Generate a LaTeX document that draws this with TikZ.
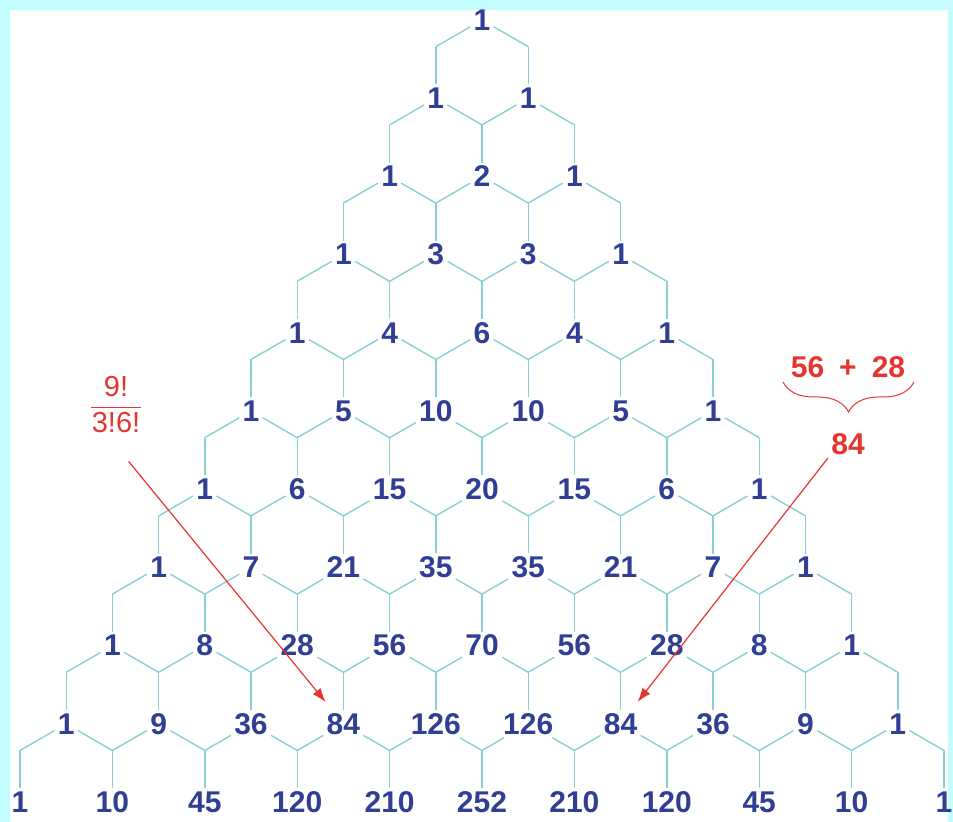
\documentclass[tikz,border=0pt]{standalone}
\usepackage{fontspec}
\setmainfont{Liberation Sans}
\usetikzlibrary{arrows.meta,decorations.pathreplacing}
\definecolor{mycyan}{HTML}{C2FCFF}
\definecolor{myhex}{HTML}{88D0D4}
\definecolor{mynavy}{HTML}{303E94}
\definecolor{myred}{HTML}{E53530}

\begin{document}
\begin{tikzpicture}[x=0.5pt,y=-0.5pt,
  num/.style={font=\fontsize{15}{16}\selectfont\bfseries,text=mynavy,inner sep=1.5pt},
  hex/.style={draw=myhex,line width=0.7pt},
  ann/.style={font=\fontsize{15}{16}\selectfont\bfseries,text=myred,inner sep=1.5pt},
  arr/.style={-{Latex[length=7pt,width=5pt]},draw=myred,line width=0.6pt}]
% frame
\fill[mycyan] (0,0) rectangle (953,822);
\fill[white] (10,10) rectangle (948,822);
\useasboundingbox (0,0) rectangle (953,822);
% numbers
\foreach \vals [count=\rr from 0] in {{1},{1,1},{1,2,1},{1,3,3,1},{1,4,6,4,1},
    {1,5,10,10,5,1},{1,6,15,20,15,6,1},{1,7,21,35,35,21,7,1},
    {1,8,28,56,70,56,28,8,1},{1,9,36,84,126,126,84,36,9,1},
    {1,10,45,120,210,252,210,120,45,10,1}}{
  \foreach \v [count=\kk from 0] in \vals{
    \node[num] (n-\rr-\kk) at ({482+(2*\kk-\rr)*46.2},{20+78.2*\rr}) {\v};
  }
}
% honeycomb
\foreach \rr [evaluate=\rr as \rn using int(\rr+1)] in {0,...,9}{
  \foreach \jj in {0,...,\rn}{
    \coordinate (j-\rr-\jj) at ({482+(2*\jj-\rr-1)*46.2},{46.7+78.2*\rr});
    \draw[hex] (j-\rr-\jj) -- (n-\rn-\jj);
  }
  \foreach \kk [evaluate=\kk as \kn using int(\kk+1)] in {0,...,\rr}{
    \draw[hex] (j-\rr-\kk) -- (n-\rr-\kk) -- (j-\rr-\kn);
  }
}
% left note
\node[ann,font=\fontsize{14.5}{16}\selectfont] (frac) at (116,407)
  {\setlength{\tabcolsep}{0.5pt}\renewcommand{\arraystretch}{1.1}%
   \begin{tabular}{c}9!\\\hline 3!6!\end{tabular}};
\draw[arr,shorten <=10pt,shorten >=5pt] (frac.south) -- (n-9-3);
% right note
\node[ann] (sum) at (848,367) {56\enspace+\enspace28};
\draw[myred,line width=0.5pt,decorate,decoration={brace,mirror,amplitude=15pt}]
  (783,382) -- (914,382);
\node[ann] (res) at (848,444) {84};
\draw[arr,shorten >=5pt] (res.south west) -- (n-9-6);
\end{tikzpicture}
\end{document}
